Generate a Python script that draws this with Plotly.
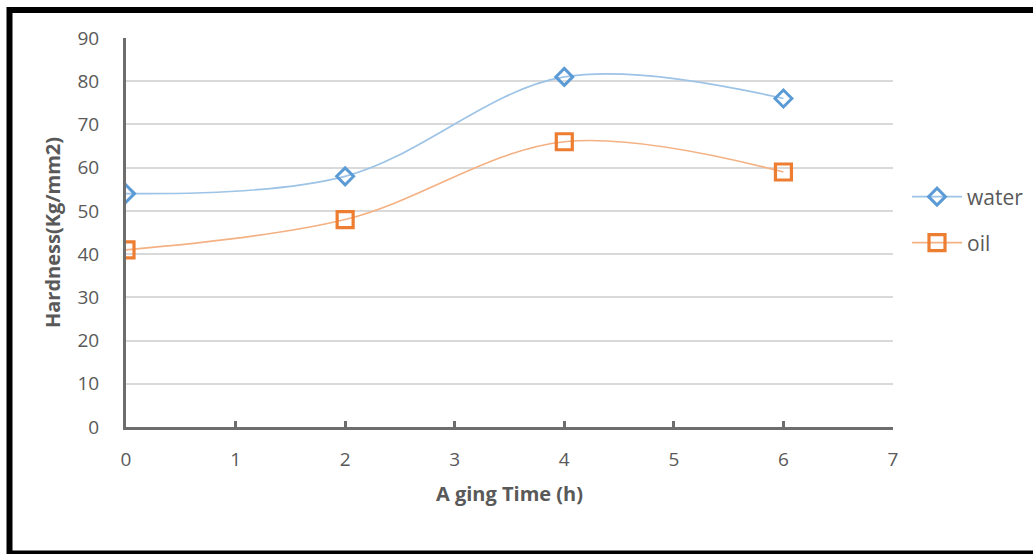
import plotly.graph_objects as go

aging_time = [0, 2, 4, 6]
water = [54, 58, 81, 76]
oil = [41, 48, 66, 59]
x_ticks = [0, 1, 2, 3, 4, 5, 6, 7]
y_ticks = [0, 10, 20, 30, 40, 50, 60, 70, 80, 90]

FONT = "Open Sans"
GRAY = "#595959"

fig = go.Figure()
fig.add_trace(go.Scatter(
    x=aging_time, y=water, name="water", mode="lines+markers",
    line=dict(color="#9dc3e6", width=1.7, shape="spline", smoothing=1.0),
    marker=dict(symbol="diamond-open", size=13, color="#5b9bd5",
                line=dict(color="#5b9bd5", width=3)),
    legend="legend",
))
fig.add_trace(go.Scatter(
    x=aging_time, y=oil, name="oil", mode="lines+markers",
    line=dict(color="#f4b183", width=1.7, shape="spline", smoothing=1.0),
    marker=dict(symbol="square-open", size=16, color="#ed7d31",
                line=dict(color="#ed7d31", width=3.2)),
    legend="legend2",
))

L, R, T, B = 126, 140, 38, 127
W, H = 1033, 554
pw, ph = W - L - R, H - T - B

def px_x(p):
    return (p - L) / pw

def px_y(p):
    return (H - B - p) / ph

fig.update_layout(
    width=W, height=H,
    margin=dict(l=L, r=R, t=T, b=B, autoexpand=False),
    paper_bgcolor="white", plot_bgcolor="white",
    font=dict(family=FONT, color=GRAY, size=19),
    xaxis=dict(
        range=[0, 7], tickvals=x_ticks, ticktext=[str(v) for v in x_ticks],
        showgrid=False, zeroline=False,
        showline=True, linecolor="#6d6d6d", linewidth=3,
        ticks="inside", ticklen=6, tickwidth=3, tickcolor="#6d6d6d",
        ticklabelstandoff=13,
        tickfont=dict(size=19, color=GRAY),
        title=dict(text="A ging Time (h)", font=dict(size=20, color=GRAY, family=FONT, weight="bold"), standoff=17),
    ),
    yaxis=dict(
        range=[0, 90], tickvals=y_ticks,
        showgrid=True, gridcolor="#d9d9d9", gridwidth=1.5,
        zeroline=False,
        showline=True, linecolor="#6d6d6d", linewidth=3,
        ticks="", ticklabelstandoff=20,
        tickfont=dict(size=19, color=GRAY),
        title=dict(text="Hardness(Kg/mm2)", font=dict(size=20, color=GRAY, family=FONT, weight="bold"), standoff=12),
    ),
    legend=dict(x=px_x(907), y=px_y(197), xanchor="left", yanchor="middle",
                bgcolor="rgba(0,0,0,0)", itemwidth=50, font=dict(size=21, color=GRAY)),
    legend2=dict(x=px_x(907), y=px_y(243), xanchor="left", yanchor="middle",
                 bgcolor="rgba(0,0,0,0)", itemwidth=50, font=dict(size=21, color=GRAY)),
    showlegend=True,
)

# outer black frame
fig.add_shape(type="rect", xref="paper", yref="paper",
              x0=px_x(9.5), x1=px_x(1040), y0=px_y(553.5), y1=px_y(10),
              line=dict(color="black", width=6), fillcolor="rgba(0,0,0,0)", layer="above")

fig.write_html("out.html", config={"displayModeBar": False},
               post_script="document.body.style.margin='0';document.body.style.overflow='hidden';")
